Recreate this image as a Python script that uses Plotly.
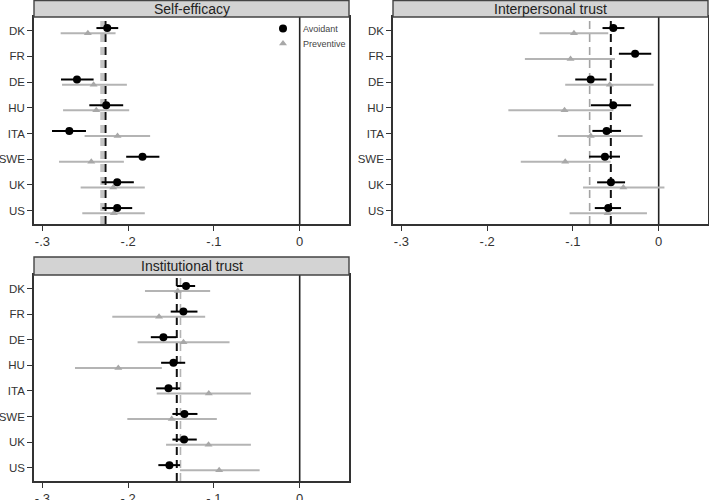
import plotly.graph_objects as go

countries = ["DK", "FR", "DE", "HU", "ITA", "SWE", "UK", "US"]
panels = ["Self-efficacy", "Interpersonal trust", "Institutional trust"]

# Self-efficacy
se_avoid = [-0.2244, None, -0.2597, -0.2256, -0.2686, -0.1833, -0.2128, -0.2128]
se_avoid_lo = [-0.2370, None, -0.2783, -0.2453, -0.2888, -0.2023, -0.2310, -0.2302]
se_avoid_hi = [-0.2116, None, -0.2403, -0.2058, -0.2492, -0.1636, -0.1934, -0.1953]
se_prev = [-0.2470, None, -0.2403, -0.2372, -0.2124, -0.2430, -0.2174, -0.2167]
se_prev_lo = [-0.2787, None, -0.2771, -0.2759, -0.2508, -0.2806, -0.2554, -0.2535]
se_prev_hi = [-0.2147, None, -0.2015, -0.1988, -0.1744, -0.2050, -0.1806, -0.1806]

# Interpersonal trust
ip_avoid = [-0.0529, -0.0275, -0.0793, -0.0530, -0.0608, -0.0627, -0.0557, -0.0588]
ip_avoid_lo = [-0.0655, -0.0464, -0.0973, -0.0790, -0.0773, -0.0812, -0.0718, -0.0745]
ip_avoid_hi = [-0.0400, -0.0087, -0.0608, -0.0322, -0.0439, -0.0451, -0.0392, -0.0439]
ip_prev = [-0.0988, -0.1028, -0.0570, -0.1098, -0.0792, -0.1090, -0.0412, -0.0596]
ip_prev_lo = [-0.1390, -0.1560, -0.1090, -0.1753, -0.1176, -0.1608, -0.0882, -0.1039]
ip_prev_hi = [-0.0588, -0.0510, -0.0059, -0.0529, -0.0188, -0.0561, 0.0067, -0.0137]

# Institutional trust
it_avoid = [-0.1325, -0.1356, -0.1589, -0.1472, -0.1530, -0.1344, -0.1348, -0.1519]
it_avoid_lo = [-0.1434, -0.1504, -0.1736, -0.1616, -0.1674, -0.1484, -0.1484, -0.1648]
it_avoid_hi = [-0.1219, -0.1192, -0.1440, -0.1335, -0.1395, -0.1192, -0.1200, -0.1395]
it_prev = [-0.1422, -0.1640, -0.1355, -0.2115, -0.1060, -0.1492, -0.1063, -0.0939]
it_prev_lo = [-0.1804, -0.2185, -0.1890, -0.2620, -0.1667, -0.2010, -0.1558, -0.1395]
it_prev_hi = [-0.1044, -0.1102, -0.0818, -0.1607, -0.0569, -0.0966, -0.0569, -0.0467]

# Pooled reference values (dashed lines)
pooled_avoid = [-0.2264, -0.0558, -0.1433]
pooled_prev = [-0.2302, -0.0805, -0.1390]

xticks = [-0.3, -0.2, -0.1, 0]
xticklabels = ["-.3", "-.2", "-.1", "0"]

W, H = 709, 500
FONT = "Liberation Sans, Arial, sans-serif"
AV_COLOR = "#000000"
PV_COLOR = "#a8a8a8"
PV_BAR = "#b4b4b4"

# panel frames in pixels: (left, right, top, bottom, strip_top)
frames = [(34, 349, 17, 224, 0.5), (393, 708, 17, 224, 0.5), (34, 349, 275, 481, 257)]
gray_styles = [("#c4c4c4", 4), ("#a3a3a3", 1.6), ("#b4b4b4", 1.6)]

data = [
    (se_avoid, se_avoid_lo, se_avoid_hi, se_prev, se_prev_lo, se_prev_hi),
    (ip_avoid, ip_avoid_lo, ip_avoid_hi, ip_prev, ip_prev_lo, ip_prev_hi),
    (it_avoid, it_avoid_lo, it_avoid_hi, it_prev, it_prev_lo, it_prev_hi),
]

fig = go.Figure()
idx = list(range(len(countries)))
off = 0.1


def errs(est, lo, hi):
    plus = [None if e is None else h - e for e, h in zip(est, hi)]
    minus = [None if e is None else e - l for e, l in zip(est, lo)]
    return plus, minus


shapes = []
annotations = []
for p, (av, avl, avh, pv, pvl, pvh) in enumerate(data):
    ax = "" if p == 0 else str(p + 1)
    xa, ya = "x" + ax, "y" + ax
    # reference lines
    gcol, gw = gray_styles[p]
    shapes.append(dict(type="line", xref=xa, yref=ya + " domain", x0=pooled_prev[p], x1=pooled_prev[p],
                       y0=0, y1=1, line=dict(color=gcol, width=gw, dash="8px,5px"), layer="below"))
    shapes.append(dict(type="line", xref=xa, yref=ya + " domain", x0=pooled_avoid[p], x1=pooled_avoid[p],
                       y0=0, y1=1, line=dict(color="#111111", width=2, dash="8px,5px"), layer="below"))
    shapes.append(dict(type="line", xref=xa, yref=ya + " domain", x0=0, x1=0,
                       y0=0, y1=1, line=dict(color="#222222", width=1.6), layer="below"))
    pp, pm = errs(pv, pvl, pvh)
    fig.add_trace(go.Scatter(
        x=pv, y=[i + off for i in idx], mode="markers", name="Preventive",
        marker=dict(symbol="triangle-up", size=7, color=PV_COLOR),
        error_x=dict(type="data", array=pp, arrayminus=pm, color=PV_BAR, thickness=2, width=0),
        xaxis=xa, yaxis=ya, showlegend=(p == 0), legend="legend2"))
    ap, am = errs(av, avl, avh)
    fig.add_trace(go.Scatter(
        x=av, y=[i - off for i in idx], mode="markers", name="Avoidant",
        marker=dict(symbol="circle", size=8, color=AV_COLOR),
        error_x=dict(type="data", array=ap, arrayminus=am, color="#000000", thickness=2, width=0),
        xaxis=xa, yaxis=ya, showlegend=(p == 0), legend="legend"))

    l, r, t, b, st = frames[p]
    dx = [l / W, r / W]
    dy = [(H - b) / H, (H - t) / H]
    xkey = "xaxis" + ax
    ykey = "yaxis" + ax
    fig.layout[xkey] = dict(domain=dx, range=[-0.3098, 0.0575], tickvals=xticks, ticktext=xticklabels,
                            showgrid=False, zeroline=False, showline=True, mirror=True, automargin=False,
                            linecolor="#333333", linewidth=1.6, ticks="outside", ticklen=5,
                            tickwidth=1.4, tickcolor="#333333", anchor=ya,
                            tickfont=dict(family=FONT, size=13, color="#333333"))
    fig.layout[ykey] = dict(domain=dy, range=[7.52, -0.53], tickvals=idx, ticktext=countries,
                            showgrid=False, zeroline=False, showline=True, mirror=True, automargin=False,
                            linecolor="#333333", linewidth=1.6, ticks="outside", ticklen=5,
                            tickwidth=1.4, tickcolor="#333333", anchor=xa,
                            tickfont=dict(family=FONT, size=11.5, color="#333333"))
    # title strip
    shapes.append(dict(type="rect", xref="paper", yref="paper", x0=l / W, x1=r / W,
                       y0=(H - t) / H, y1=(H - st) / H, fillcolor="#d3d3d3",
                       line=dict(color="#444444", width=1.4), layer="above"))
    annotations.append(dict(text=panels[p], xref="paper", yref="paper", x=(l + r) / 2 / W,
                            y=(H - (t + st) / 2) / H, showarrow=False, xanchor="center", yanchor="middle",
                            font=dict(family=FONT, size=14, color="#222222")))

legend_common = dict(xanchor="left", yanchor="top", bgcolor="rgba(0,0,0,0)", itemwidth=30,
                     font=dict(family=FONT, size=9, color="#444444"))
fig.update_layout(
    width=W, height=H, margin=dict(l=0, r=0, t=0, b=0, autoexpand=False),
    paper_bgcolor="white", plot_bgcolor="white",
    shapes=shapes, annotations=annotations,
    showlegend=True,
    legend=dict(x=263 / W, y=(H - 14) / H, **legend_common),
    legend2=dict(x=263 / W, y=(H - 29) / H, **legend_common),
)

fig.write_html("out.html", config={"displayModeBar": False},
               post_script="document.body.style.margin='0';document.body.style.overflow='hidden';")
